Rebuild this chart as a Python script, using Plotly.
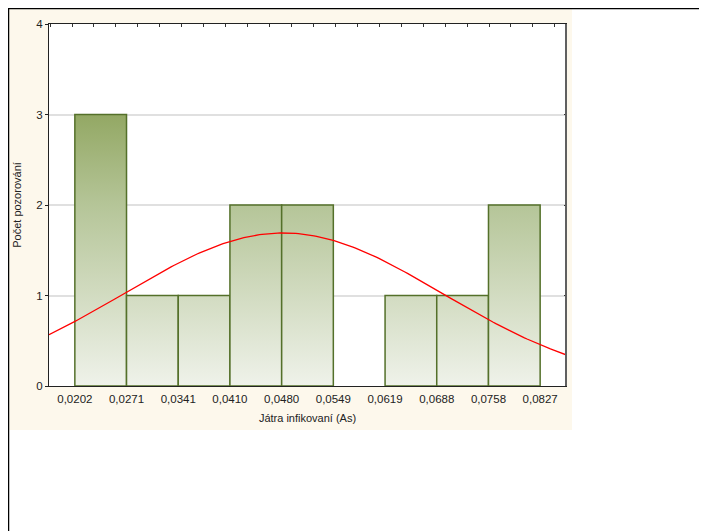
import numpy as np
import plotly.graph_objects as go

# ---- data ----
bin_edges = [0.0202, 0.02714, 0.03409, 0.04103, 0.04798, 0.05492, 0.06187, 0.06881, 0.07576, 0.0827]
counts = [3, 1, 1, 2, 2, 0, 1, 1, 2]
tick_labels = ["0,0202", "0,0271", "0,0341", "0,0410", "0,0480", "0,0549",
               "0,0619", "0,0688", "0,0758", "0,0827"]
y_ticks = [0, 1, 2, 3, 4]
# normal fit parameters
MEAN = 0.0482
SD = 0.0213
N_OBS = 13

x_title = "Játra infikovaní (As)"
y_title = "Počet pozorování"

# ---- layout helpers (figure pixel coordinates; page has 8px body margin) ----
W, H = 699, 523
L, R, T, B = 41, 558, 16, 378          # plot area in pixels
bw = (bin_edges[-1] - bin_edges[0]) / (len(bin_edges) - 1)
x_range = [bin_edges[0] - bw / 2, bin_edges[-1] + bw / 2]


def px(xp):
    return (xp - L) / (R - L)


def py(yp):
    return (B - yp) / (B - T)


FONT = "Liberation Sans, Arial, sans-serif"
BAR_LINE = "#54702a"
grad_scale = [[0.0, "#eff2ea"], [0.667, "#b5c598"], [1.0, "#93a864"]]

fig = go.Figure()

# histogram bars with vertical gradient fill
for i, c in enumerate(counts):
    if c <= 0:
        continue
    x0, x1 = bin_edges[i], bin_edges[i + 1]
    fig.add_trace(go.Scatter(
        x=[x0, x0, x1, x1, x0], y=[0, c, c, 0, 0],
        mode="lines", fill="toself",
        fillgradient=dict(type="vertical", colorscale=grad_scale, start=0, stop=3),
        line=dict(color=BAR_LINE, width=1.5),
        hoverinfo="skip", showlegend=False,
    ))

# normal curve
xc = np.linspace(x_range[0], x_range[1], 200)
yc = N_OBS * bw / (SD * np.sqrt(2 * np.pi)) * np.exp(-0.5 * ((xc - MEAN) / SD) ** 2)
fig.add_trace(go.Scatter(x=xc, y=yc, mode="lines",
                         line=dict(color="#ff0000", width=1.3),
                         hoverinfo="skip", showlegend=False))

# invisible trace to activate the decorative secondary axes
fig.add_trace(go.Scatter(x=[x_range[0]], y=[0], xaxis="x2", yaxis="y2",
                         mode="markers", marker=dict(opacity=0),
                         hoverinfo="skip", showlegend=False))

fig.update_layout(
    width=W, height=H,
    margin=dict(l=L, r=W - R, t=T, b=H - B, pad=0),
    paper_bgcolor="white",
    plot_bgcolor="white",
    font=dict(family=FONT, size=11, color="#222222"),
    xaxis=dict(
        range=x_range, tickmode="array", tickvals=bin_edges, ticktext=tick_labels,
        ticks="", showgrid=False, zeroline=False,
        showline=True, linecolor="#222222", linewidth=1, mirror=True,
        ticklabelstandoff=2, tickfont=dict(size=11.5),
        title=dict(text=x_title, standoff=10, font=dict(size=11)),
        automargin=False,
    ),
    yaxis=dict(
        range=[0, 4], tickmode="array", tickvals=y_ticks,
        ticks="outside", ticklen=3, tickcolor="#222222",
        showgrid=True, gridcolor="#e0e0e0", gridwidth=1.5, zeroline=False,
        showline=True, linecolor="#222222", linewidth=1, mirror=True,
        ticklabelstandoff=0, tickfont=dict(size=11.5),
        title=dict(text=y_title, standoff=12, font=dict(size=11)),
        automargin=False,
    ),
    xaxis2=dict(
        overlaying="x", side="top", range=x_range,
        tickmode="linear", tick0=0.01982, dtick=0.002948,
        ticks="inside", ticklen=3, tickcolor="#333333",
        showticklabels=False, showgrid=False, zeroline=False, showline=False,
    ),
    yaxis2=dict(
        overlaying="y", side="right", range=[0, 4],
        tickmode="array", tickvals=[1, 2, 3],
        ticks="inside", ticklen=2, tickcolor="#333333",
        showticklabels=False, showgrid=False, zeroline=False, showline=False,
    ),
    shapes=[
        # cream panel
        dict(type="rect", xref="paper", yref="paper",
             x0=px(0), x1=px(564), y0=py(422), y1=py(1),
             fillcolor="#fdf8ec", line=dict(width=0), layer="below"),
        # white plot area
        dict(type="rect", xref="paper", yref="paper",
             x0=0, x1=1, y0=0, y1=1,
             fillcolor="white", line=dict(width=0), layer="below"),
        # right border of plot (gray, thicker)
        dict(type="line", xref="paper", yref="paper",
             x0=1, x1=1, y0=0, y1=1,
             line=dict(color="#606060", width=2), layer="above"),
        # outer black frame
        dict(type="rect", xref="paper", yref="paper",
             x0=px(0), x1=px(730), y0=py(560), y1=py(0),
             fillcolor="rgba(0,0,0,0)", line=dict(color="black", width=2.5),
             layer="above"),
    ],
)

fig.write_html("out.html")
